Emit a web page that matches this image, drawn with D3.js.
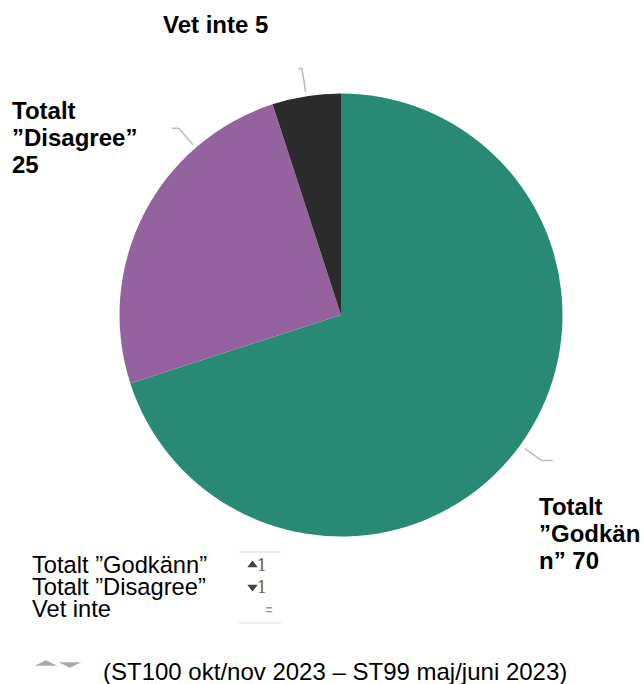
<!DOCTYPE html>
<html>
<head>
<meta charset="utf-8">
<script src="https://cdn.jsdelivr.net/npm/d3@7"></script>
<style>
  body { margin: 0; background: #fff; }
  svg { display: block; font-family: "Liberation Sans", Arial, sans-serif; }
</style>
</head>
<body>
<svg id="chart" width="644" height="684"></svg>
<script>
"use strict";

// Data
const categories = ["Totalt \u201DGodkänn\u201D", "Totalt \u201DDisagree\u201D", "Vet inte"];
const values = [70, 25, 5];
const labelLines = [
  ["Totalt", "\u201DGodkän", "n\u201D 70"],
  ["Totalt", "\u201DDisagree\u201D", "25"],
  ["Vet inte 5"]
];
const changeDirs = ["up", "down", "none"];
const changeValues = ["1", "1", "="];
const footnote = "(ST100 okt/nov 2023 \u2013 ST99 maj/juni 2023)";

const colors = ["#288a75", "#94629f", "#2b2b2b"];

const svg = d3.select("#chart");
const cx = 341, cy = 315, radius = 221.5;

const pie = d3.pie().sort(null).value((d) => d)(values);
const arc = d3.arc().innerRadius(0).outerRadius(radius);

const g = svg.append("g").attr("transform", `translate(${cx},${cy})`);
g.selectAll("path.slice")
  .data(pie)
  .enter()
  .append("path")
  .attr("class", "slice")
  .attr("d", arc)
  .attr("fill", (d, i) => colors[i]);

// Leader lines (label positions were moved by hand in the original)
const leaders = [
  { angle: null, r0: radius + 6, r1: radius + 26, dx: 12 },
  { angle: (319 * Math.PI) / 180, r0: radius + 4, r1: radius + 26, dx: -7 },
  { angle: (351 * Math.PI) / 180, r0: radius + 4, r1: radius + 28, dx: -4 }
];
const polar = (a, r) => [r * Math.sin(a), -r * Math.cos(a)];
leaders.forEach((l, i) => {
  const a = l.angle == null ? (pie[i].startAngle + pie[i].endAngle) / 2 : l.angle;
  const p0 = polar(a, l.r0);
  const p1 = polar(a, l.r1);
  const p2 = [p1[0] + l.dx, p1[1]];
  g.append("path")
    .attr("d", d3.line()([p0, p1, p2]))
    .attr("fill", "none")
    .attr("stroke", "#bdbdbd")
    .attr("stroke-width", 1.6);
});

// Data labels
const labelPos = [
  { x: 539, y: 515 },
  { x: 12, y: 119 },
  { x: 163, y: 33 }
];
labelLines.forEach((lines, i) => {
  const t = svg.append("text")
    .attr("x", labelPos[i].x)
    .attr("y", labelPos[i].y)
    .attr("font-size", 24)
    .attr("font-weight", "bold")
    .attr("fill", "#000");
  lines.forEach((s, j) => {
    t.append("tspan").attr("x", labelPos[i].x).attr("dy", j === 0 ? 0 : 27).text(s);
  });
});

// Legend text
const legendY = d3.scaleBand().domain(categories).range([553, 619]);
svg.selectAll("text.legend")
  .data(categories)
  .enter()
  .append("text")
  .attr("class", "legend")
  .attr("x", 32)
  .attr("y", (d) => legendY(d) + 20)
  .attr("font-size", 23.7)
  .attr("fill", "#000")
  .text((d) => d);

// Change indicator box
const box = svg.append("g");
[552, 623].forEach((y) => {
  box.append("line").attr("x1", 239).attr("x2", 281).attr("y1", y).attr("y2", y)
    .attr("stroke", "#e3e3e3").attr("stroke-width", 1.5);
});
const tri = d3.symbol(d3.symbolTriangle).size(36);
categories.forEach((c, i) => {
  const y = legendY(c) + 18;
  if (changeDirs[i] !== "none") {
    box.append("path")
      .attr("d", tri())
      .attr("transform", `translate(252.5,${y - 6}) scale(1.15,0.85)` + (changeDirs[i] === "down" ? " rotate(180)" : ""))
      .attr("fill", "#444");
    box.append("text").attr("x", 262).attr("y", y)
      .attr("text-anchor", "middle")
      .attr("font-family", "DejaVu Serif, serif")
      .attr("font-size", 17)
      .attr("fill", "#666")
      .text(changeValues[i]);
  } else {
    box.append("text").attr("x", 269).attr("y", y - 1)
      .attr("text-anchor", "middle")
      .attr("font-size", 12)
      .attr("font-weight", "bold")
      .attr("fill", "#999")
      .text(changeValues[i]);
  }
});

// Footnote with flat triangles
const ftri = d3.symbol(d3.symbolTriangle).size(120);
svg.append("path").attr("d", ftri())
  .attr("transform", "translate(46,664) scale(1.35,0.38)").attr("fill", "#a8a8a8");
svg.append("path").attr("d", ftri())
  .attr("transform", "translate(70,664) scale(1.35,0.38) rotate(180)").attr("fill", "#a8a8a8");
svg.append("text").attr("x", 103).attr("y", 680)
  .attr("font-size", 24).attr("fill", "#000").text(footnote);
</script>
</body>
</html>
